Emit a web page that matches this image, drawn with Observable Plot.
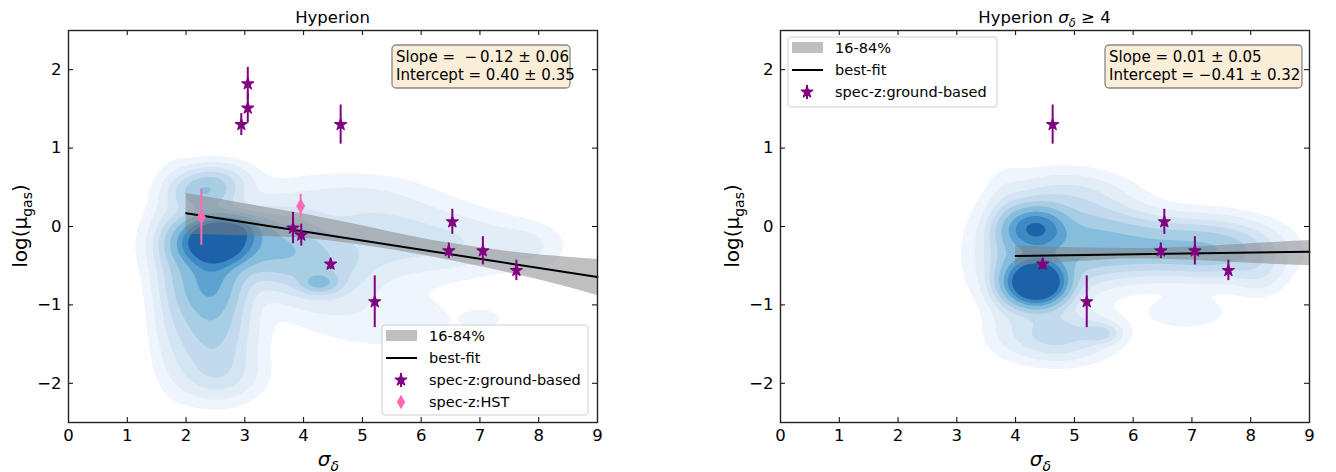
<!DOCTYPE html>
<html><head><meta charset="utf-8">
<script src="https://cdn.jsdelivr.net/npm/d3@7"></script>
<script src="https://cdn.jsdelivr.net/npm/@observablehq/plot@0.6"></script>
<style>
body{margin:0;background:#fff}
#wrap{display:flex;width:1336px;height:472px;background:#fff}
#wrap svg{display:block;overflow:visible}
</style>
</head><body><div id="wrap"></div>
<script>
// ---------------- data ----------------
const xTicks = [0, 1, 2, 3, 4, 5, 6, 7, 8, 9];
const yTicks = [-2, -1, 0, 1, 2];

// spec-z ground-based (purple stars)
const gbX   = [2.94, 3.05, 3.05, 3.82, 3.96, 4.46, 4.63, 5.21, 6.47, 6.53, 7.05, 7.62];
const gbY   = [1.30, 1.51, 1.82, -0.02, -0.11, -0.48, 1.30, -0.96, -0.31, 0.06, -0.31, -0.56];
const gbErr = [0.14, 0.19, 0.21, 0.20, 0.14, 0.07, 0.25, 0.33, 0.10, 0.16, 0.18, 0.13];
// spec-z HST (pink thin diamonds)
const hstX   = [2.26, 3.95];
const hstY   = [0.12, 0.26];
const hstErr = [0.36, 0.15];

// left panel fit
const leftBandX  = [2, 3, 4, 5, 6, 7, 8, 9];
const leftBandLo = [-0.10, -0.12, -0.15, -0.24, -0.36, -0.51, -0.68, -0.88];
const leftBandHi = [0.42, 0.29, 0.16, 0.01, -0.15, -0.27, -0.36, -0.42];
const leftFitX = [2, 9];
const leftFitY = [0.17, -0.645];
// right panel fit
const rightBandX  = [4, 5, 6, 7, 8, 9];
const rightBandLo = [-0.50, -0.45, -0.41, -0.43, -0.47, -0.50];
const rightBandHi = [-0.25, -0.27, -0.28, -0.26, -0.22, -0.18];
const rightFitX = [4, 9];
const rightFitY = [-0.375, -0.322];

// KDE background approximated by gaussian blobs
const kdeLeftCx = [2.50, 2.75, 2.40, 2.45, 2.55, 2.30, 3.55, 4.30, 4.27, 5.40, 6.70, 7.80, 2.60, 4.60, 5.40, 1.80, 7.05, 2.45];
const kdeLeftCy = [-0.20, -0.03, -0.72, -1.35, -1.90, 0.45, -0.25, -0.55, -0.72, -0.15, -0.20, -0.25, 0.60, 0.35, -1.20, -0.60, -1.18, -0.25];
const kdeLeftSx = [0.38, 0.35, 0.35, 0.42, 0.45, 0.33, 0.50, 0.55, 0.20, 0.75, 0.70, 0.40, 0.35, 0.90, 0.90, 0.25, 0.20, 0.60];
const kdeLeftSy = [0.18, 0.10, 0.30, 0.35, 0.22, 0.16, 0.28, 0.30, 0.08, 0.32, 0.25, 0.18, 0.15, 0.22, 0.25, 0.70, 0.08, 0.35];
const kdeLeftW  = [1.25, 0.35, 0.40, 0.20, 0.08, 0.25, 0.25, 0.15, 0.22, 0.09, 0.06, 0.04, 0.08, 0.04, 0.03, 0.08, 0.03, 0.12];

const kdeRightCx = [4.35, 4.32, 4.35, 5.30, 6.40, 7.50, 8.15, 4.70, 5.45, 4.90, 6.90, 3.85];
const kdeRightCy = [-0.72, -0.02, -0.35, -0.18, -0.25, -0.30, -0.60, -1.38, -1.36, 0.40, -1.10, -0.35];
const kdeRightSx = [0.30, 0.32, 0.55, 0.60, 0.70, 0.60, 0.28, 0.55, 0.20, 0.60, 0.50, 0.20];
const kdeRightSy = [0.17, 0.17, 0.40, 0.30, 0.22, 0.22, 0.18, 0.20, 0.08, 0.20, 0.15, 0.50];
const kdeRightW  = [1.60, 0.65, 0.22, 0.24, 0.24, 0.22, 0.05, 0.16, 0.12, 0.07, 0.03, 0.08];

const kdeLevels = [0.015, 0.04, 0.08, 0.13, 0.2, 0.3, 0.45, 0.6, 0.8];
const kdeColors = ["#eff5fc", "#e2edf8", "#d3e4f3", "#c2d9ee", "#a8cee4", "#87bddc", "#5da2d1", "#3c89c3", "#1c62a8"];

const purple = "#800080";
const pink = "#ff69b4";

// ---------------- helpers ----------------
function mixture(cx, cy, sx, sy, w) {
  return (x, y) => {
    let s = 0;
    for (let i = 0; i < cx.length; i++) {
      const dx = (x - cx[i]) / sx[i], dy = (y - cy[i]) / sy[i];
      s += w[i] * Math.exp(-0.5 * (dx * dx + dy * dy));
    }
    return s;
  };
}
const thinDiamond = {
  draw(ctx, size) {
    const h = Math.sqrt(size / Math.PI) * 1.45, w = h * 0.58;
    ctx.moveTo(0, -h); ctx.lineTo(w, 0); ctx.lineTo(0, h); ctx.lineTo(-w, 0); ctx.closePath();
  }
};
const rows = (X, Y, E) => X.map((x, i) => ({x, y: Y[i], e: E[i]}));
const fmt = d => d < 0 ? "\u2212" + (-d) : String(d);

const W = 668, H = 472, MT = 30, MB = 50;
const STAR_R = 3.7, DIAM_R = 5;

function panel(opts) {
  const {marginLeft, marginRight, density, bandX, bandLo, bandHi, fitX, fitY, gb, hst} = opts;
  const innerW = W - marginLeft - marginRight, innerH = H - MT - MB;
  const band = bandX.map((x, i) => ({x, lo: bandLo[i], hi: bandHi[i]}));
  const fit = fitX.map((x, i) => ({x, y: fitY[i]}));
  const marks = [
    Plot.contour({fill: density, x1: 0, x2: 9, y1: -2.5, y2: 2.5, thresholds: kdeLevels, stroke: "none", pixelSize: 1}),
    Plot.areaY(band, {x: "x", y1: "lo", y2: "hi", fill: "#808080", fillOpacity: 0.5, curve: "monotone-x"}),
    Plot.line(fit, {x: "x", y: "y", stroke: "#000", strokeWidth: 2})
  ];
  marks.push(Plot.ruleX(gb, {x: "x", y1: d => d.y - d.e, y2: d => d.y + d.e, stroke: purple, strokeWidth: 2}));
  marks.push(Plot.dot(gb, {x: "x", y: "y", symbol: "star", r: STAR_R, fill: purple, stroke: purple, strokeWidth: 1.2, strokeLinejoin: "round"}));
  if (hst) {
    marks.push(Plot.ruleX(hst, {x: "x", y1: d => d.y - d.e, y2: d => d.y + d.e, stroke: pink, strokeWidth: 2}));
    marks.push(Plot.dot(hst, {x: "x", y: "y", symbol: thinDiamond, r: DIAM_R, fill: pink, stroke: pink, strokeWidth: 0.5}));
  }
  marks.push(
    Plot.tickX(xTicks, {x: d => d, insetTop: innerH - 5, stroke: "#000", strokeWidth: 1}),
    Plot.tickX(xTicks, {x: d => d, insetBottom: innerH - 5, stroke: "#000", strokeWidth: 1}),
    Plot.tickY(yTicks, {y: d => d, insetRight: innerW - 5, stroke: "#000", strokeWidth: 1}),
    Plot.tickY(yTicks, {y: d => d, insetLeft: innerW - 5, stroke: "#000", strokeWidth: 1}),
    Plot.axisX({ticks: xTicks, tickFormat: fmt, tickSize: 0, tickPadding: 7, fontSize: 16.5, label: null, fill: "#000"}),
    Plot.axisY({ticks: yTicks, tickFormat: fmt, tickSize: 0, tickPadding: 7, fontSize: 16.5, label: null, fill: "#000"}),
    Plot.frame({stroke: "#222", strokeWidth: 1.4})
  );
  return Plot.plot({
    width: W, height: H, marginTop: MT, marginBottom: MB, marginLeft, marginRight,
    x: {domain: [0, 9], label: null},
    y: {domain: [-2.5, 2.5], label: null},
    color: {type: "ordinal", domain: kdeLevels, range: kdeColors},
    style: {fontFamily: "DejaVu Sans", background: "#fff", color: "#000", overflow: "visible"},
    marks
  });
}

function decorate(svgNode, o) {
  const svg = d3.select(svgNode);
  const fx0 = o.marginLeft, fx1 = W - o.marginRight, cx = (fx0 + fx1) / 2;
  const g = svg.append("g").attr("text-anchor", "start");
  // title
  const t = g.append("text").attr("x", cx).attr("y", 23).attr("text-anchor", "middle").style("font-size", "16.5px");
  t.append("tspan").text(o.title);
  if (o.sub) {
    t.append("tspan").text(" ");
    t.append("tspan").style("font-style", "italic").text("σ");
    t.append("tspan").attr("dy", 4).style("font-size", "11.5px").style("font-style", "italic").text("δ");
    t.append("tspan").attr("dy", -4).text(" ≥ 4");
  }
  // x label
  const xl = g.append("text").attr("x", cx - 4).attr("y", 466).attr("text-anchor", "middle").style("font-size", "20px");
  xl.append("tspan").style("font-style", "italic").text("σ");
  xl.append("tspan").attr("dy", 5).style("font-size", "14px").style("font-style", "italic").text("δ");
  // y label
  const yl = g.append("text").attr("transform", `translate(${fx0 - 41},226) rotate(-90)`).attr("text-anchor", "middle").style("font-size", "20px");
  yl.append("tspan").text("log(μ");
  yl.append("tspan").attr("dy", 5).style("font-size", "14px").text("gas");
  yl.append("tspan").attr("dy", -5).text(")");
  // annotation box
  const a = o.ann;
  g.append("rect").attr("x", a.x).attr("y", 45).attr("width", a.w).attr("height", 43).attr("rx", 4)
    .attr("fill", "#faeed9").attr("stroke", "#888").attr("stroke-width", 1.3);
  g.append("text").attr("x", a.x + 4).attr("y", 62).style("font-size", "15px").text(a.l1);
  g.append("text").attr("x", a.x + 4).attr("y", 80).style("font-size", "15px").text(a.l2);
  // legend
  const L = o.leg;
  g.append("rect").attr("x", L.x).attr("y", L.y).attr("width", L.w).attr("height", L.h).attr("rx", 3)
    .attr("fill", "#fff").attr("fill-opacity", 0.8).attr("stroke", "#d0d0d0").attr("stroke-width", 1);
  const px = L.x + 4, tx = L.x + 47, mx = L.x + 19;
  L.items.forEach((it, i) => {
    const cy = L.y + 11 + i * 22;
    if (it.kind === "band") g.append("rect").attr("x", px).attr("y", cy - 6).attr("width", 31).attr("height", 11).attr("fill", "#bfbfbf");
    if (it.kind === "line") g.append("line").attr("x1", px).attr("x2", px + 31).attr("y1", cy).attr("y2", cy).attr("stroke", "#000").attr("stroke-width", 2);
    if (it.kind === "star") {
      g.append("line").attr("x1", mx).attr("x2", mx).attr("y1", cy - 7).attr("y2", cy + 7).attr("stroke", purple).attr("stroke-width", 2);
      g.append("path").attr("transform", `translate(${mx},${cy})`).attr("d", d3.symbol(d3.symbolStar, Math.PI * STAR_R * STAR_R)())
        .attr("fill", purple).attr("stroke", purple).attr("stroke-width", 1.2).attr("stroke-linejoin", "round");
    }
    if (it.kind === "diamond") {
      g.append("path").attr("transform", `translate(${mx},${cy})`).attr("d", d3.symbol(thinDiamond, Math.PI * DIAM_R * DIAM_R)()).attr("fill", pink);
    }
    g.append("text").attr("x", tx).attr("y", cy + 5).style("font-size", "14.5px").text(it.label);
  });
}

// ---------------- build ----------------
const wrap = document.getElementById("wrap");
const gbRows = rows(gbX, gbY, gbErr);
const hstRows = rows(hstX, hstY, hstErr);

const leftOpts = {
  marginLeft: 68, marginRight: 71,
  density: mixture(kdeLeftCx, kdeLeftCy, kdeLeftSx, kdeLeftSy, kdeLeftW),
  bandX: leftBandX, bandLo: leftBandLo, bandHi: leftBandHi, fitX: leftFitX, fitY: leftFitY,
  gb: gbRows, hst: hstRows,
  title: "Hyperion", sub: false,
  ann: {x: 392, w: 178, l1: "Slope =  \u2212\u20090.12 ± 0.06", l2: "Intercept = 0.40 ± 0.35"},
  leg: {x: 382, y: 325, w: 206, h: 90, items: [
    {kind: "band", label: "16-84%"}, {kind: "line", label: "best-fit"},
    {kind: "star", label: "spec-z:ground-based"}, {kind: "diamond", label: "spec-z:HST"}]}
};
const rightOpts = {
  marginLeft: 112, marginRight: 27,
  density: mixture(kdeRightCx, kdeRightCy, kdeRightSx, kdeRightSy, kdeRightW),
  bandX: rightBandX, bandLo: rightBandLo, bandHi: rightBandHi, fitX: rightFitX, fitY: rightFitY,
  gb: gbRows.filter(d => d.x >= 4), hst: null,
  title: "Hyperion", sub: true,
  ann: {x: 437, w: 197, l1: "Slope = 0.01 ± 0.05", l2: "Intercept = \u22120.41 ± 0.32"},
  leg: {x: 120, y: 37, w: 209, h: 70, items: [
    {kind: "band", label: "16-84%"}, {kind: "line", label: "best-fit"},
    {kind: "star", label: "spec-z:ground-based"}]}
};
for (const o of [leftOpts, rightOpts]) {
  const node = panel(o);
  wrap.appendChild(node);
  decorate(node, o);
}
</script></body></html>
